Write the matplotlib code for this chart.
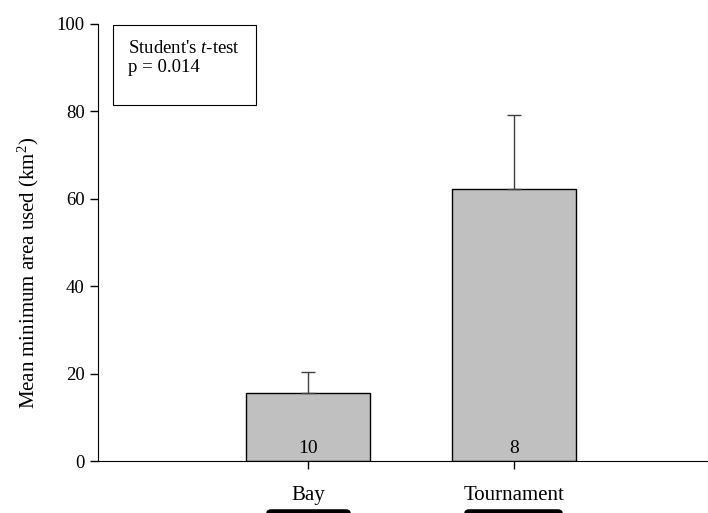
import numpy as np
import matplotlib.pyplot as plt
from matplotlib.patches import FancyBboxPatch, Rectangle

# === Data ===
groups = ["Bay", "Tournament"]
means = [15.6, 62.3]
errors = [4.8, 16.8]
n_fish = ["10", "8"]

plt.rcParams["font.family"] = ["Liberation Serif", "DejaVu Serif"]
plt.rcParams["mathtext.fontset"] = "custom"
plt.rcParams["mathtext.rm"] = "Liberation Serif"
plt.rcParams["mathtext.it"] = "Liberation Serif:italic"

fig = plt.figure(figsize=(7.08, 5.13), dpi=100)
ax = fig.add_axes([98 / 708, 1 - 461 / 513, 610 / 708, 437 / 513])

x = np.array([1, 2])
ax.bar(x, means, width=0.6, color="#c0c0c0", edgecolor="black", linewidth=1.0)
ax.errorbar(x, means, yerr=[np.zeros(2), errors], fmt="none",
            ecolor="#404040", elinewidth=1.0, capsize=4.7, capthick=1.0)

for xi, n in zip(x, n_fish):
    ax.text(xi, 1.0, n, ha="center", va="bottom", fontsize=14)

ax.set_xlim(-0.02, 2.94)
ax.set_ylim(0, 100)
ax.set_yticks([0, 20, 40, 60, 80, 100])
ax.set_xticks(x)
ax.set_xticklabels(groups, fontsize=15)
ax.tick_params(axis="y", labelsize=13.5, length=6, width=1)
ax.tick_params(axis="x", length=6, width=1, pad=12)
ax.spines["top"].set_visible(False)
ax.spines["right"].set_visible(False)
ax.set_ylabel("Mean minimum area used (km$^2$)", fontsize=15)
ax.yaxis.set_label_coords(-0.093, 0.43)

# stats box
ax.add_patch(Rectangle((0.0246, 0.815), 0.234, 0.183, transform=ax.transAxes,
                       facecolor="white", edgecolor="black", linewidth=0.8,
                       clip_on=False))
ax.text(0.049, 0.945, "Student's $\\it{t}$-test", transform=ax.transAxes,
        ha="left", va="center", fontsize=13.5)
ax.text(0.049, 0.90, "p = 0.014", transform=ax.transAxes,
        ha="left", va="center", fontsize=13.5)

# black marks under the group labels (cut off at bottom)
for x0, x1 in [(267, 350), (465, 562)]:
    fig.patches.append(FancyBboxPatch((x0 / 708, -0.01), (x1 - x0) / 708, 0.016,
                                      boxstyle="round,pad=0,rounding_size=0.006",
                                      transform=fig.transFigure, facecolor="black",
                                      edgecolor="black"))

fig.savefig("out.png", dpi=100)
